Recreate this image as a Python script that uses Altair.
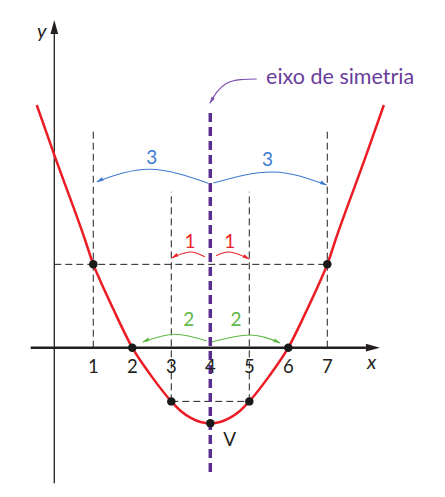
import altair as alt
import pandas as pd

# ---- values (x in units, y in units) ----
curve_x = [-0.45, 0.0, 0.79, 1.0, 1.17, 1.5, 2.0, 2.5, 3.0, 3.25, 3.5, 3.75, 4.0,
           4.25, 4.5, 4.75, 5.0, 5.5, 6.0, 6.5, 6.83, 7.0, 7.21, 8.0, 8.45]
curve_y = [12.84, 10.2, 5.7, 4.41, 3.58, 2.1, 0.0, -1.53, -2.84, -3.36, -3.71, -3.93, -4.0,
           -3.93, -3.71, -3.36, -2.84, -1.53, 0.0, 2.1, 3.58, 4.41, 5.7, 10.2, 12.84]

dot_x = [1, 7, 2, 6, 3, 5, 4]
dot_y = [4.41, 4.41, 0, 0, -2.84, -2.84, -4.0]

tick_vals = [1, 2, 3, 4, 5, 6, 7]
tick_labels = ["1", "2", "3", "4", "5", "6", "7"]

guide_x1 = [1, 7, 3, 5, 0, 3]
guide_x2 = [1, 7, 3, 5, 7, 5]
guide_y1 = [0, 0, -2.84, -2.84, 4.41, -2.84]
guide_y2 = [11.52, 11.52, 8.25, 8.25, 4.41, -2.84]

sym_x = [4]
sym_y1 = [-6.58]
sym_y2 = [12.68]

arc_group = (["b1"] * 3 + ["b2"] * 3 + ["r1"] * 3 + ["r2"] * 3
             + ["g1"] * 3 + ["g2"] * 3 + ["p"] * 3)
arc_color = (["b"] * 6 + ["r"] * 6 + ["g"] * 6 + ["p"] * 3)
arc_x = [3.95, 2.45, 1.09, 4.08, 5.61, 6.98,
         3.86, 3.48, 3.01, 4.15, 4.51, 5.0,
         3.91, 3.09, 2.27, 4.04, 5.02, 5.79,
         3.99, 4.42, 5.19]
arc_y = [8.70, 9.44, 8.78, 8.71, 9.30, 8.61,
         4.81, 5.06, 4.75, 4.87, 5.06, 4.69,
         0.35, 0.71, 0.30, 0.30, 0.67, 0.25,
         12.93, 13.99, 14.22]

head_color = ["b", "b", "r", "r", "g", "g", "p"]
head_x = [1.16, 6.91, 3.08, 4.93, 2.34, 5.72, 4.03]
head_y = [8.85, 8.68, 4.83, 4.77, 0.37, 0.32, 13.07]
head_dir = [155, 25, 150, 30, 155, 25, 120]

arc_label_text = ["3", "3", "1", "1", "2", "2"]
arc_label_color = ["b", "b", "r", "r", "g", "g"]
arc_label_x = [2.50, 5.47, 3.48, 4.50, 3.45, 4.66]
arc_label_y = [10.04, 9.93, 5.61, 5.61, 1.47, 1.47]

# ---- tables ----
curve = pd.DataFrame({"x": curve_x, "y": curve_y})
dots = pd.DataFrame({"x": dot_x, "y": dot_y})
ticks = pd.DataFrame({"x": tick_vals, "t": tick_labels, "y": [-1.0] * len(tick_vals)})
guides = pd.DataFrame({"x": guide_x1, "x2": guide_x2, "y": guide_y1, "y2": guide_y2})
sym = pd.DataFrame({"x": sym_x, "y": sym_y1, "y2": sym_y2})
arcs = pd.DataFrame({"x": arc_x, "y": arc_y, "grp": arc_group, "c": arc_color})
heads = pd.DataFrame({"x": head_x, "y": head_y, "c": head_color, "a": head_dir})
arc_labels = pd.DataFrame({"x": arc_label_x, "y": arc_label_y,
                           "t": arc_label_text, "c": arc_label_color})
xaxis = pd.DataFrame({"x": [-0.605], "x2": [7.99], "y": [0]})
yaxis = pd.DataFrame({"x": [0], "y": [-7.17], "y2": [16.6]})
axis_heads = pd.DataFrame({"x": [8.17, 0], "y": [0, 16.97], "a": [0, 270]})
axis_names = pd.DataFrame({"x": [8.14, -0.32], "y": [-0.79, 16.72], "t": ["x", "y"]})
vlabel = pd.DataFrame({"x": [4.5], "y": [-4.88], "t": ["V"]})
eixo = pd.DataFrame({"x": [5.43], "y": [14.29], "t": ["eixo de simetria"]})

XS = alt.Scale(domain=[-1.187, 9.813], nice=False, zero=False)
YS = alt.Scale(domain=[-7.476, 17.974], nice=False, zero=False)
X = lambda f="x": alt.X(f + ":Q", scale=XS, axis=None)
Y = lambda f="y": alt.Y(f + ":Q", scale=YS, axis=None)

cscale = alt.Scale(domain=["b", "r", "g", "p"],
                   range=["#3d7bd0", "#ec2227", "#5db843", "#7a4cad"])
FONT = "Lato"
ARROW = "M1,0L-1,-0.55L-1,0.55Z"
DARK = "#231f20"

l_guides = alt.Chart(guides).mark_rule(color=DARK, strokeWidth=1, strokeDash=[7, 4]).encode(
    x=X(), x2="x2:Q", y=Y(), y2="y2:Q")

l_yaxis = alt.Chart(yaxis).mark_rule(color=DARK, strokeWidth=1.3).encode(
    x=X(), y=Y(), y2="y2:Q")
l_xaxis = alt.Chart(xaxis).mark_rule(color=DARK, strokeWidth=2.6).encode(
    x=X(), x2="x2:Q", y=Y())
l_axis_heads = alt.Chart(axis_heads).mark_point(
    shape=ARROW, filled=True, size=196, color=DARK, opacity=1, strokeWidth=0).encode(
    x=X(), y=Y(), angle=alt.Angle("a:Q", scale=None))

l_sym = alt.Chart(sym).mark_rule(color="#5a2d91", strokeWidth=3.5, strokeDash=[9, 5]).encode(
    x=X(), y=Y(), y2="y2:Q")

l_curve = alt.Chart(curve).mark_line(color="#ec1c24", strokeWidth=2.5, interpolate="monotone").encode(
    x=X(), y=Y())

l_arcs = alt.Chart(arcs).mark_line(strokeWidth=1.1, interpolate="natural").encode(
    x=X(), y=Y(), detail="grp:N", color=alt.Color("c:N", scale=cscale, legend=None))
l_heads = alt.Chart(heads).mark_point(shape=ARROW, filled=True, size=49, opacity=1, strokeWidth=0).encode(
    x=X(), y=Y(), angle=alt.Angle("a:Q", scale=None),
    color=alt.Color("c:N", scale=cscale, legend=None))

l_dots = alt.Chart(dots).mark_circle(size=72, color="#1a1a1a", opacity=1).encode(x=X(), y=Y())

l_ticks = alt.Chart(ticks).mark_text(font=FONT, fontSize=18.5, color=DARK, baseline="middle").encode(
    x=X(), y=Y(), text="t:N")
l_arc_labels = alt.Chart(arc_labels).mark_text(font=FONT, fontSize=19, baseline="middle").encode(
    x=X(), y=Y(), text="t:N", color=alt.Color("c:N", scale=cscale, legend=None))
l_names = alt.Chart(axis_names).mark_text(font=FONT, fontSize=20, fontStyle="italic", color=DARK,
                                          baseline="middle").encode(x=X(), y=Y(), text="t:N")
l_v = alt.Chart(vlabel).mark_text(font=FONT, fontSize=19, color=DARK, baseline="middle").encode(
    x=X(), y=Y(), text="t:N")
l_eixo = alt.Chart(eixo).mark_text(font=FONT, fontSize=21.5, color="#6a3c9c", align="left",
                                   baseline="middle").encode(x=X(), y=Y(), text="t:N")

chart = alt.layer(
    l_guides, l_yaxis, l_xaxis, l_axis_heads, l_sym, l_curve, l_arcs, l_heads,
    l_dots, l_ticks, l_arc_labels, l_names, l_v, l_eixo
).properties(
    width=429, height=481, padding=0, autosize=alt.AutoSizeParams(type="none")
).configure_view(strokeWidth=0)

chart.save("out.html", embed_options={"renderer": "svg", "actions": False})
